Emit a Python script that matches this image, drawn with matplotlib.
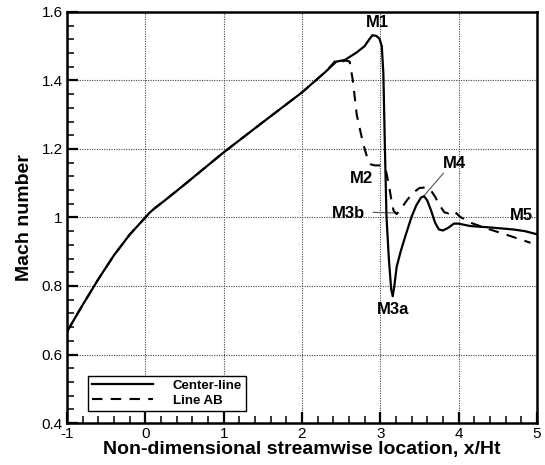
import matplotlib
matplotlib.use("Agg")
import matplotlib.pyplot as plt
from matplotlib.ticker import MultipleLocator, FuncFormatter

plt.rcParams["font.family"] = ["Liberation Sans", "DejaVu Sans"]

# Center-line Mach number along x/Ht
center_x = [-1.0, -0.8, -0.6, -0.4, -0.2, -0.1, 0.0, 0.05, 0.12, 0.25, 0.5,
            1.0, 1.5, 2.0, 2.3, 2.44, 2.55, 2.7, 2.8, 2.86, 2.9, 2.95, 2.99,
            3.02, 3.04, 3.06, 3.08, 3.11, 3.14, 3.16, 3.18, 3.21, 3.26, 3.32,
            3.40, 3.46, 3.52, 3.56, 3.60, 3.65, 3.70, 3.75, 3.80, 3.87, 3.94,
            4.0, 4.15, 4.40, 4.70, 4.85, 5.0]
center_y = [0.667, 0.745, 0.820, 0.890, 0.950, 0.975, 1.000, 1.013, 1.027, 1.050,
            1.096, 1.190, 1.278, 1.365, 1.425, 1.455, 1.460, 1.482, 1.500, 1.520,
            1.532, 1.530, 1.522, 1.500, 1.420, 1.200, 1.002, 0.880, 0.790, 0.770,
            0.800, 0.856, 0.900, 0.945, 1.002, 1.035, 1.058, 1.062, 1.050, 1.020,
            0.985, 0.965, 0.962, 0.970, 0.982, 0.982, 0.975, 0.971, 0.965, 0.960,
            0.951]

# Line AB (coincides with center-line upstream)
ab_x = [-1.0, -0.8, -0.6, -0.4, -0.2, -0.1, 0.0, 0.05, 0.12, 0.25, 0.5, 1.0,
        1.5, 2.0, 2.30, 2.38, 2.45, 2.50, 2.56, 2.61, 2.65, 2.70, 2.78, 2.84,
        2.88, 2.93, 3.00, 3.05, 3.08, 3.11, 3.14, 3.17, 3.21, 3.25, 3.34,
        3.42, 3.50, 3.59, 3.65, 3.70, 3.76, 3.82, 3.87, 3.91, 3.96, 4.02,
        4.15, 4.36, 4.62, 4.92]
ab_y = [0.667, 0.745, 0.820, 0.890, 0.950, 0.975, 1.000, 1.013, 1.027, 1.050,
        1.096, 1.190, 1.278, 1.365, 1.425, 1.445, 1.463, 1.455, 1.458, 1.455,
        1.400, 1.300, 1.217, 1.170, 1.155, 1.152, 1.152, 1.148, 1.130, 1.095,
        1.055, 1.020, 1.010, 1.020, 1.050, 1.072, 1.086, 1.088, 1.078, 1.061,
        1.035, 1.015, 1.012, 1.020, 1.015, 1.002, 0.985, 0.968, 0.949, 0.926]

# point labels: (text, x, y)
labels = [("M1", 2.964, 1.569), ("M2", 2.756, 1.114), ("M3b", 2.598, 1.012),
          ("M3a", 3.166, 0.732), ("M4", 3.947, 1.157), ("M5", 4.805, 1.007)]
leaders = [((2.91, 3.21), (1.015, 1.013)), ((3.806, 3.55), (1.129, 1.061))]

fig = plt.figure(figsize=(5.45, 4.65), dpi=100)
ax = fig.add_axes([0.123, 0.0903, 0.862, 0.884])

ax.plot(center_x, center_y, color="black", lw=1.6, label="Center-line", zorder=3)
ax.plot(ab_x, ab_y, color="black", lw=1.5, dashes=(5, 4), label="Line AB", zorder=3)

for (xs, ys) in leaders:
    ax.plot(xs, ys, color="#555555", lw=0.8, zorder=2)
for txt, tx, ty in labels:
    ax.text(tx, ty, txt, ha="center", va="center", fontsize=12,
            fontweight="bold", zorder=4)

ax.set_xlim(-1, 5)
ax.set_ylim(0.4, 1.6)
ax.xaxis.set_major_locator(MultipleLocator(1))
ax.xaxis.set_minor_locator(MultipleLocator(0.2))
ax.yaxis.set_major_locator(MultipleLocator(0.2))
ax.yaxis.set_minor_locator(MultipleLocator(0.04))
fmt = FuncFormatter(lambda v, p: f"{v:g}")
ax.xaxis.set_major_formatter(fmt)
ax.yaxis.set_major_formatter(fmt)

ax.tick_params(axis="both", which="major", direction="in", length=8, width=1.6,
               labelsize=11, top=False, right=False)
ax.tick_params(axis="x", which="major", pad=3)
ax.tick_params(axis="y", which="major", pad=3)
ax.tick_params(axis="both", which="minor", direction="in", length=5, width=1.1,
               top=False, right=False)
for s in ax.spines.values():
    s.set_linewidth(1.8)

ax.grid(True, which="major", linestyle=(0, (1, 1.2)), color="#444444", lw=0.8)

ax.set_xlabel("Non-dimensional streamwise location, x/Ht", fontsize=14,
              fontweight="bold", labelpad=0)
ax.set_ylabel("Mach number", fontsize=14, fontweight="bold", labelpad=6)

leg = ax.legend(loc="lower left", bbox_to_anchor=(0.045, 0.03), fancybox=False,
                framealpha=1, edgecolor="black", handlelength=4.6,
                prop={"weight": "bold", "size": 9.5}, borderpad=0.3,
                labelspacing=0.2, handletextpad=1.5, borderaxespad=0)
leg.get_frame().set_linewidth(1.0)

fig.savefig("out.png", dpi=100)
